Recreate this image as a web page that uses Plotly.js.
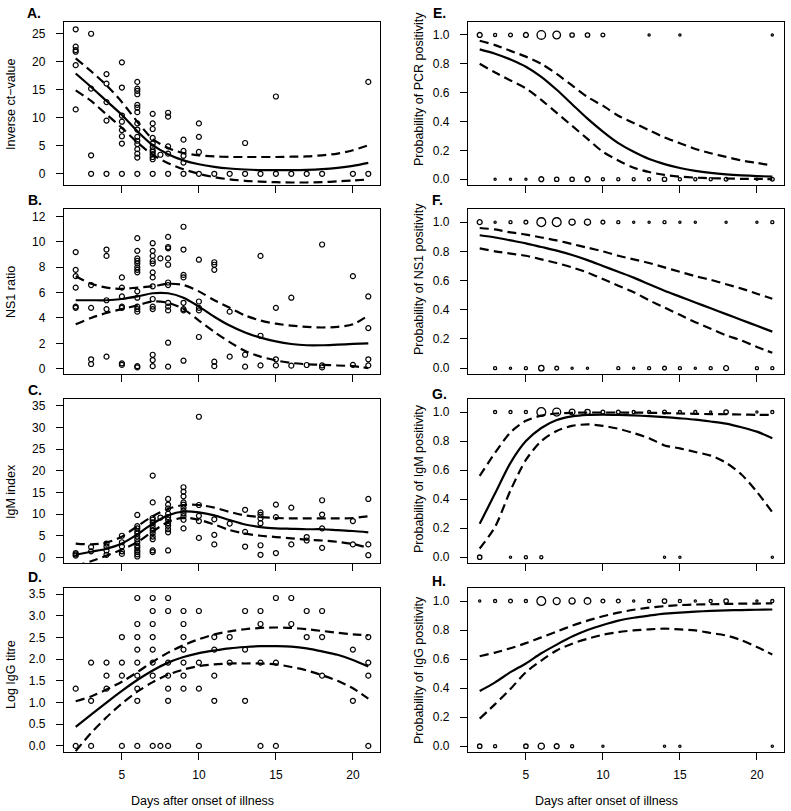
<!DOCTYPE html>
<html><head><meta charset="utf-8">
<script src="https://cdn.plot.ly/plotly-3.0.1.min.js"></script>
<style>html,body{margin:0;padding:0;background:#fff}#chart{width:791px;height:811px}</style>
</head><body><div id="chart"></div>
<script>
// ---------- DATA ----------
const fitDays = [2,3,4,5,6,7,8,9,10,11,12,13,14,15,16,17,18,19,20,21];

// A. Inverse ct-value (points grouped by day)
const ctByDay = [
 [2,[25.8,22.7,22.1,21.8,19.4,11.5]],
 [3,[25.0,15.2,3.3,0]],
 [4,[17.8,16.1,12.8,9.5,0]],
 [5,[19.9,15.4,10.4,9.3,7.8,6.7,5.4,0]],
 [6,[16.4,15.2,14.8,14.2,12.3,11.8,11.0,9.0,7.9,6.6,5.9,5.3,4.4,3.6,2.9,0]],
 [7,[10.7,9.0,8.0,6.4,5.4,4.8,4.2,3.9,3.5,3.0,2.6,0]],
 [7.5,[3.4]],
 [8,[10.9,10.2,4.9,3.6,0]],
 [9,[6.1,4.1,3.2,2.0,0]],
 [10,[9.0,6.6,3.9,0]],
 [11,[0]],[12,[0]],[13,[5.5,0]],[14,[0]],[15,[13.8,0]],[16,[0]],[17,[0]],[18,[0]],[20,[0]],
 [21,[16.4,0]]
];
const ctFit   = [17.9,15.5,13.0,10.5,7.6,5.1,3.5,2.4,1.7,1.25,0.95,0.77,0.65,0.65,0.65,0.7,0.83,1.07,1.43,1.96];
const ctUpper = [20.6,18.3,15.8,12.8,9.3,6.2,4.6,3.7,3.3,3.1,3.0,3.0,3.0,3.0,3.05,3.1,3.3,3.6,4.2,5.1];
const ctLower = [14.9,13.0,10.6,8.2,5.6,3.4,1.9,0.8,0.0,-0.6,-1.0,-1.25,-1.4,-1.5,-1.55,-1.55,-1.5,-1.35,-1.2,-1.0];

// B. NS1 ratio
const ns1ByDay = [
 [2,[9.2,7.8,7.3,6.4,4.9,4.8]],
 [3,[6.6,4.8,0.74,0.37]],
 [4,[9.4,8.9,5.4,4.7,0.95]],
 [5,[7.2,6.4,5.7,4.9,4.8,0.42,0.3]],
 [6,[10.3,9.3,8.7,8.5,8.3,8.0,7.8,7.6,6.1,5.6,4.9,4.7,4.5,0.2,0.1]],
 [7,[9.9,9.3,8.9,8.5,8.3,7.6,7.2,6.5,5.5,4.9,4.7,1.1,0.68,0.2]],
 [7.5,[8.7]],
 [8,[10.4,9.6,9.5,8.7,8.2,6.8,6.6,5.2,4.9,4.6,2.05,0.16]],
 [9,[11.2,9.4,7.4,7.2,5.2,4.7,4.6,0.63]],
 [10,[8.6,5.3,4.8,4.6,2.5]],
 [11,[8.4,8.2,7.8,0.55,0.2]],
 [12,[4.5,0.95]],
 [13,[1.1,0.16]],
 [14,[8.9,2.6,0.26]],
 [15,[4.8,0.74,0.26]],
 [16,[5.6,0.24]],
 [17,[0.29]],
 [18,[9.8,0.26,0.1]],
 [20,[7.3,0.3]],
 [21,[5.7,3.2,0.74,0.26]]
];
const ns1Fit   = [5.4,5.4,5.4,5.5,5.7,5.95,5.95,5.6,4.9,4.1,3.4,2.85,2.45,2.15,1.95,1.85,1.85,1.9,1.95,2.0];
const ns1Upper = [7.3,6.7,6.4,6.3,6.4,6.5,6.7,6.6,6.1,5.4,4.8,4.2,3.8,3.55,3.4,3.3,3.25,3.3,3.5,4.2];
const ns1Lower = [3.5,4.0,4.4,4.7,5.0,5.3,5.2,4.7,3.8,2.9,2.1,1.4,0.95,0.65,0.45,0.35,0.3,0.25,0.2,0.05];

// C. IgM index
const igmByDay = [
 [2,[1.0,0.7,0.4]],
 [3,[2.4,1.4]],
 [4,[3.2,2.5,1.6,0.6]],
 [5,[5.0,3.5,2.5,1.4,0.8]],
 [6,[9.8,7.2,6.7,6.0,5.5,4.8,4.2,3.5,2.7,2.2,1.6,1.2,0.7,0.2]],
 [7,[18.9,12.7,9.1,8.7,8.1,7.5,6.8,6.2,5.6,4.8,4.2,1.6,1.2]],
 [7.5,[9.2]],
 [8,[13.5,12.2,11.3,10.1,9.3,8.7,7.9,7.3,6.5,5.8,1.6]],
 [9,[16.2,15.2,14.1,12.7,12.2,11.5,10.8,10.2,9.5,8.7,6.7]],
 [10,[32.5,12.1,9.6,8.4,4.5]],
 [11,[8.8,5.2,3.0]],
 [12,[7.8]],
 [13,[11.0,5.9,2.5]],
 [14,[10.4,9.8,9.0,7.9,2.8,0.6]],
 [15,[12.2,9.3,1.0]],
 [16,[11.5,3.0]],
 [17,[4.7,3.9]],
 [18,[13.2,9.9,6.7,2.2]],
 [20,[8.4,3.0]],
 [21,[13.5,3.0,0.5]]
];
const igmFit   = [0.6,1.3,2.0,3.2,5.3,7.8,9.7,10.6,10.4,9.7,8.6,7.6,7.0,6.7,6.6,6.5,6.5,6.3,6.1,5.8];
const igmUpper = [3.2,3.0,3.4,4.8,7.2,9.5,11.2,12.1,12.1,11.5,10.5,9.7,9.3,9.1,9.0,9.0,9.0,9.0,9.1,9.5];
const igmLower = [-2.0,-0.9,0.4,1.8,3.5,6.0,8.2,9.2,8.7,7.6,6.3,5.5,5.0,4.7,4.4,4.1,3.9,3.6,3.1,2.2];

// D. Log IgG titre
const iggByDay = [
 [2,[1.32,0]],
 [3,[1.92,1.04,0]],
 [4,[1.92,1.62,1.32]],
 [5,[2.51,1.92,1.62,0]],
 [6,[3.41,2.81,2.51,2.22,1.92,1.62,1.32,1.04,0]],
 [7,[3.41,3.11,2.81,2.51,2.22,1.92,1.62,0]],
 [7.5,[0]],
 [8,[3.41,3.11,1.92,1.62,1.32,1.04,0]],
 [9,[3.11,2.81,2.51,2.22,1.92,1.62,1.32]],
 [10,[3.11,1.92,1.32,0]],
 [11,[2.51,2.22,1.62,1.04]],
 [12,[2.51,1.92]],
 [13,[3.11,2.22,1.04]],
 [14,[3.11,2.81,1.92,0]],
 [15,[3.41,1.92,0]],
 [16,[3.41,2.81]],
 [17,[3.11,2.51]],
 [18,[3.11,2.51,1.62]],
 [20,[2.22,1.04]],
 [21,[2.51,1.92,1.62,0]]
];
const iggFit   = [0.44,0.72,1.0,1.27,1.52,1.74,1.92,2.05,2.14,2.2,2.25,2.28,2.3,2.3,2.29,2.25,2.18,2.1,1.98,1.83];
const iggUpper = [1.03,1.14,1.3,1.48,1.7,1.94,2.15,2.32,2.46,2.57,2.64,2.69,2.72,2.73,2.72,2.69,2.65,2.61,2.57,2.55];
const iggLower = [-0.12,0.3,0.66,0.98,1.25,1.47,1.64,1.76,1.84,1.88,1.9,1.9,1.9,1.88,1.82,1.74,1.63,1.5,1.33,1.09];

// E. PCR positivity (number of samples at each day, positive / negative)
const pcrPosDays = [2,3,4,5,6,7,8,9,10,13,15,21];
const pcrPosN    = [5,2,3,5,15,12,4,4,3,1,1,1];
const pcrNegDays = [3,4,5,6,7,8,9,10,11,12,13,14,15,16,17,18,20,21];
const pcrNegN    = [1,1,1,5,4,4,5,2,2,2,2,4,2,2,2,3,1,3];
const pcrFit   = [0.90,0.87,0.83,0.78,0.71,0.62,0.52,0.42,0.33,0.25,0.19,0.14,0.105,0.078,0.058,0.044,0.034,0.027,0.022,0.018];
const pcrUpper = [0.96,0.93,0.89,0.85,0.80,0.73,0.65,0.57,0.51,0.44,0.39,0.34,0.29,0.25,0.21,0.18,0.155,0.13,0.113,0.095];
const pcrLower = [0.80,0.74,0.685,0.63,0.55,0.46,0.37,0.28,0.19,0.13,0.08,0.05,0.03,0.018,0.011,0.007,0.005,0.003,0.002,0.001];

// F. NS1 positivity
const ns1PosDays = [2,3,4,5,6,7,8,9,10,11,12,13,14,15,16,18,20,21];
const ns1PosN    = [5,1,2,3,16,16,8,8,3,2,1,1,2,1,1,1,1,2];
const ns1NegDays = [3,4,5,6,7,8,9,11,12,13,14,15,16,17,18,20,21];
const ns1NegN    = [2,1,2,6,3,1,1,2,1,2,3,2,1,2,5,2,2];
const ns1pFit   = [0.91,0.895,0.875,0.855,0.83,0.805,0.775,0.74,0.70,0.66,0.62,0.575,0.53,0.49,0.45,0.41,0.37,0.33,0.29,0.25];
const ns1pUpper = [0.96,0.95,0.93,0.915,0.895,0.875,0.85,0.825,0.80,0.77,0.745,0.72,0.69,0.66,0.63,0.605,0.575,0.545,0.51,0.475];
const ns1pLower = [0.82,0.80,0.785,0.77,0.745,0.72,0.69,0.655,0.61,0.565,0.52,0.465,0.415,0.365,0.315,0.27,0.225,0.19,0.145,0.105];

// G. IgM positivity
const igmPosDays = [3,4,5,6,7,8,9,10,11,12,13,14,15,16,17,18,20,21];
const igmPosN    = [2,2,2,16,13,7,6,3,3,2,2,3,2,2,1,4,1,2];
const igmNegDays = [2,4,5,6,14,15,21];
const igmNegN    = [4,1,2,2,1,1,1];
const igmpFit   = [0.23,0.44,0.65,0.80,0.89,0.945,0.97,0.98,0.982,0.98,0.977,0.972,0.965,0.957,0.948,0.935,0.92,0.895,0.865,0.82];
const igmpUpper = [0.56,0.72,0.86,0.94,0.975,0.99,0.995,0.997,0.997,0.997,0.996,0.995,0.993,0.99,0.988,0.986,0.985,0.983,0.981,0.98];
const igmpLower = [0.06,0.21,0.46,0.67,0.80,0.87,0.905,0.915,0.905,0.885,0.855,0.82,0.77,0.75,0.725,0.70,0.65,0.57,0.45,0.31];

// H. IgG positivity
const iggPosDays = [2,3,4,5,6,7,8,9,10,11,12,13,14,15,16,17,18,20,21];
const iggPosN    = [1,2,3,2,16,10,8,9,3,3,1,2,4,2,1,2,4,1,2];
const iggNegDays = [2,3,5,6,7,8,10,14,15,21];
const iggNegN    = [4,2,4,8,5,2,1,1,1,1];
const iggpFit   = [0.38,0.44,0.51,0.57,0.64,0.70,0.755,0.80,0.835,0.865,0.885,0.90,0.913,0.92,0.927,0.932,0.936,0.938,0.94,0.942];
const iggpUpper = [0.62,0.645,0.675,0.71,0.75,0.79,0.83,0.865,0.895,0.92,0.94,0.955,0.965,0.972,0.976,0.978,0.98,0.982,0.983,0.984];
const iggpLower = [0.19,0.29,0.395,0.51,0.59,0.66,0.706,0.74,0.768,0.786,0.798,0.805,0.81,0.805,0.798,0.78,0.763,0.73,0.683,0.632];

const xTicks = [5,10,15,20];
const panelLabels = ['A.','B.','C.','D.','E.','F.','G.','H.'];
const yTitles = ['Inverse ct\u2212value','NS1 ratio','IgM index','Log IgG titre',
  'Probability of PCR positivity','Probability of NS1 positivity','Probability of IgM positivity','Probability of IgG positivity'];
const xTitle = 'Days after onset of illness';

// ---------- BUILD ----------
const W = 791, H = 811;
const FONT = 'Liberation Sans, Arial, Helvetica, sans-serif';
const colPx = [[64,380],[468,784]];
const rowPx = [[22,185],[209,374],[399,563],[588,752]];
const fx = p => p / W, fy = p => 1 - p / H;

function flatten(byDay){
  const x=[], y=[];
  byDay.forEach(([d, vals]) => vals.forEach(v => { x.push(d); y.push(v); }));
  return {x, y};
}

const traces = [];
function addFits(i, fit, up, lo){
  const ax = i===1?'x':'x'+i, ay = i===1?'y':'y'+i;
  traces.push({x: fitDays, y: fit, xaxis: ax, yaxis: ay, type:'scatter', mode:'lines',
    line:{color:'#000', width:2.2, shape:'spline', smoothing:0.8}, hoverinfo:'skip'});
  [up, lo].forEach(arr => traces.push({x: fitDays, y: arr, xaxis: ax, yaxis: ay, type:'scatter', mode:'lines',
    line:{color:'#000', width:2.2, dash:'9px,5px', shape:'spline', smoothing:0.8}, hoverinfo:'skip'}));
}
function addCont(i, byDay){
  const ax = i===1?'x':'x'+i, ay = i===1?'y':'y'+i;
  const p = flatten(byDay);
  traces.push({x:p.x, y:p.y, xaxis:ax, yaxis:ay, type:'scatter', mode:'markers', cliponaxis:false,
    marker:{symbol:'circle-open', size:5, color:'#000', opacity:1, line:{width:1.2, color:'#000'}}});
}
function addBin(i, posD, posN, negD, negN){
  const ax = 'x'+i, ay = 'y'+i;
  const sz = n => 2.2*Math.sqrt(n);
  traces.push({x:posD, y:posD.map(()=>1), xaxis:ax, yaxis:ay, type:'scatter', mode:'markers', cliponaxis:false,
    marker:{symbol:'circle-open', size:posN.map(sz), color:'#000', opacity:1, line:{width:1.3, color:'#000'}}});
  traces.push({x:negD, y:negD.map(()=>0), xaxis:ax, yaxis:ay, type:'scatter', mode:'markers', cliponaxis:false,
    marker:{symbol:'circle-open', size:negN.map(sz), color:'#000', opacity:1, line:{width:1.3, color:'#000'}}});
}

addCont(1, ctByDay);  addFits(1, ctFit, ctUpper, ctLower);
addCont(2, ns1ByDay); addFits(2, ns1Fit, ns1Upper, ns1Lower);
addCont(3, igmByDay); addFits(3, igmFit, igmUpper, igmLower);
addCont(4, iggByDay); addFits(4, iggFit, iggUpper, iggLower);
addBin(5, pcrPosDays, pcrPosN, pcrNegDays, pcrNegN); addFits(5, pcrFit, pcrUpper, pcrLower);
addBin(6, ns1PosDays, ns1PosN, ns1NegDays, ns1NegN); addFits(6, ns1pFit, ns1pUpper, ns1pLower);
addBin(7, igmPosDays, igmPosN, igmNegDays, igmNegN); addFits(7, igmpFit, igmpUpper, igmpLower);
addBin(8, iggPosDays, iggPosN, iggNegDays, iggNegN); addFits(8, iggpFit, iggpUpper, iggpLower);

const yRanges = [[-2.0,27.1],[-0.42,12.6],[-1.3,36.6],[-0.14,3.64],
                 [-0.04,1.09],[-0.04,1.09],[-0.04,1.09],[-0.04,1.09]];
const yTickSets = [[0,5,10,15,20,25],[0,2,4,6,8,10,12],[0,5,10,15,20,25,30,35],[0,0.5,1,1.5,2,2.5,3,3.5]];
const probTicks = [0,0.2,0.4,0.6,0.8,1.0];

const layout = {
  width: W, height: H, margin:{l:0,r:0,t:0,b:0}, showlegend:false,
  paper_bgcolor:'#fff', plot_bgcolor:'#fff',
  font:{family:FONT, size:12, color:'#000'},
  annotations: []
};

for (let i=1;i<=8;i++){
  const col = i<=4?0:1, row = (i-1)%4;
  const xs = i===1?'':String(i);
  const bottom = row===3;
  layout['xaxis'+xs] = {
    domain:[fx(colPx[col][0]), fx(colPx[col][1])], range:[1.24,21.76], anchor:'y'+xs,
    tickvals:xTicks, ticktext:xTicks.map(String), showticklabels:bottom,
    ticks:'outside', ticklen:7, tickwidth:1, tickcolor:'#000', ticklabelstandoff:4,
    showline:true, mirror:true, linecolor:'#000', linewidth:1.2,
    showgrid:false, zeroline:false, fixedrange:true,
    tickfont:{family:FONT, size:12, color:'#000'}
  };
  const tv = i<=4 ? yTickSets[i-1] : probTicks;
  const dec = (i===4 || i>4);
  layout['yaxis'+xs] = {
    domain:[fy(rowPx[row][1]), fy(rowPx[row][0])], range:yRanges[i-1], anchor:'x'+xs,
    tickvals:tv, ticktext:tv.map(v => dec ? v.toFixed(1) : String(v)),
    ticks:'outside', ticklen:7, tickwidth:1, tickcolor:'#000', ticklabelstandoff:8,
    showline:true, mirror:true, linecolor:'#000', linewidth:1.2,
    showgrid:false, zeroline:false, fixedrange:true,
    tickfont:{family:FONT, size:12, color:'#000'}
  };
}

// panel letters
const labelPos = [[25,12.5],[26,199.5],[26,390],[26,577],[431,13],[430,200],[430,394],[430,581]];
panelLabels.forEach((t,k)=>layout.annotations.push({text:'<b>'+t+'</b>', xref:'paper', yref:'paper',
  x:fx(labelPos[k][0]), y:fy(labelPos[k][1]), xanchor:'left', yanchor:'middle', showarrow:false,
  font:{family:FONT, size:14, color:'#000'}}));
// y titles
const yTitlePos = [[11,105],[11,292],[11,492],[11,675],[419,89],[419,279],[419,479],[419,670]];
yTitles.forEach((t,k)=>layout.annotations.push({text:t, xref:'paper', yref:'paper',
  x:fx(yTitlePos[k][0]), y:fy(yTitlePos[k][1]), xanchor:'center', yanchor:'middle', textangle:-90,
  showarrow:false, font:{family:FONT, size:12.5, color:'#000'}}));
// x titles
[[202,801],[606,801]].forEach(p=>layout.annotations.push({text:xTitle, xref:'paper', yref:'paper',
  x:fx(p[0]), y:fy(p[1]), xanchor:'center', yanchor:'middle', showarrow:false,
  font:{family:FONT, size:12.5, color:'#000'}}));

Plotly.newPlot('chart', traces, layout, {staticPlot:true, displayModeBar:false});
</script></body></html>
